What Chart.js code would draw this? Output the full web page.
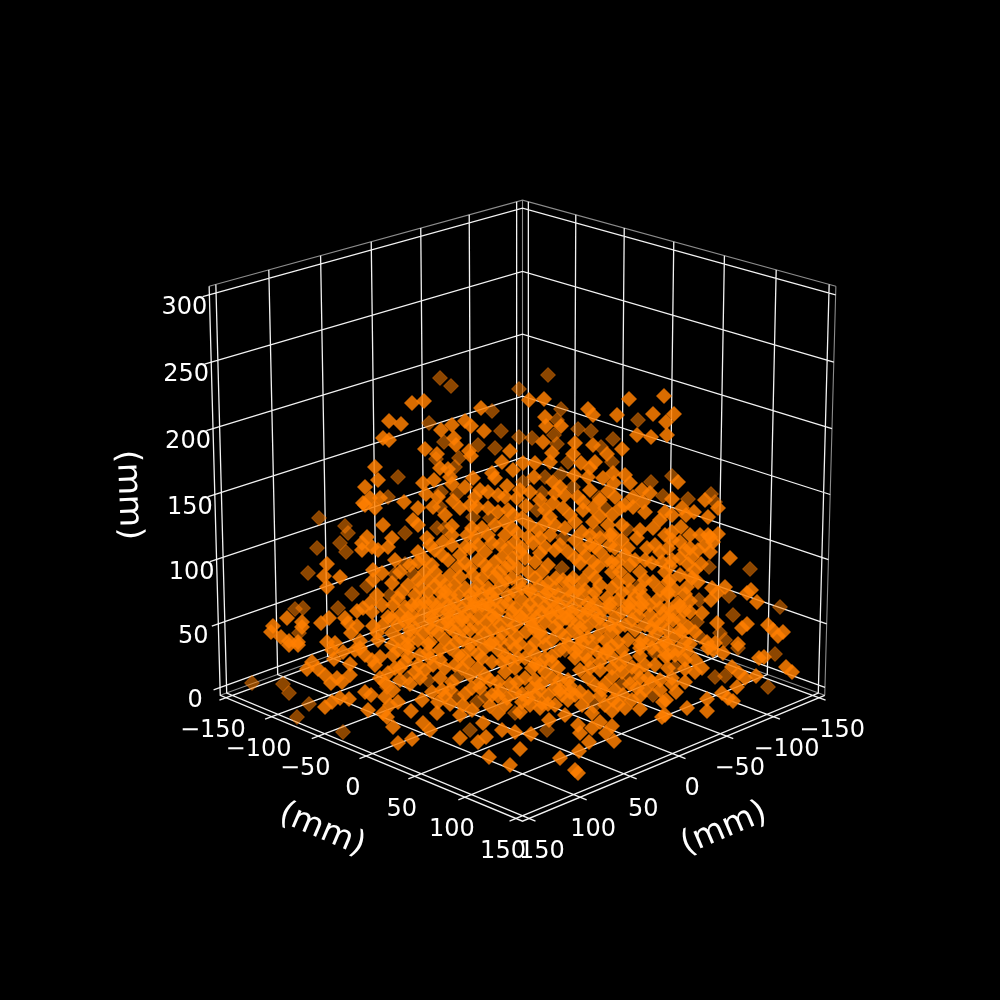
<!DOCTYPE html>
<html>
<head>
<meta charset="utf-8">
<style>
  html, body { margin: 0; padding: 0; background: #000; }
  canvas { display: block; }
</style>
<script src="https://cdn.jsdelivr.net/npm/chart.js@4"></script>
</head>
<body>
<canvas id="chart" width="1000" height="1000"></canvas>
<script>
// axis ticks, millimetres
const xTicks = [-150, -100, -50, 0, 50, 100, 150];
const yTicks = [-150, -100, -50, 0, 50, 100, 150];
const zTicks = [0, 50, 100, 150, 200, 250, 300];
const axisName = '(mm)';

// markers, on the view plane (x, y)
const nearPoints = [[412,403],[424,401],[529,400],[481,408],[389,421],[401,424],[441,430],[452,425],[465,421],[471,426],[484,431],[383,438],[389,440],[454,438],[456,445],[425,449],[437,454],[469,451],[471,456],[510,451],[502,462],[523,463],[375,467],[440,468],[448,469],[513,470],[535,463],[492,473],[450,477],[534,477],[378,480],[434,480],[423,483],[473,478],[465,487],[452,484],[365,487],[507,486],[426,494],[488,492],[480,490],[498,495],[475,497],[380,498],[404,502],[453,501],[438,497],[530,492],[517,498],[370,498],[363,503],
[544,399],[629,399],[664,396],[588,409],[593,415],[617,415],[653,414],[674,414],[666,422],[545,417],[561,426],[546,426],[637,435],[651,437],[667,435],[543,442],[575,443],[593,445],[622,449],[607,454],[552,453],[573,454],[550,462],[581,463],[595,462],[590,468],[678,482],[574,475],[588,477],[603,478],[613,473],[625,475],[630,483],[553,482],[560,487],[614,483],[608,491],[642,490],[650,493],[672,499],[705,500],[578,497],[615,497],[633,497],[555,493],[583,502],[643,502],[553,503],
[367,537],[362,543],[362,550],[372,547],[378,550],[383,525],[375,508],[365,505],[327,564],[324,576],[340,577],[327,587],[373,570],[382,573],[373,580],[377,595],[357,611],[363,608],[370,603],[372,612],[382,605],[287,618],[345,618],[329,618],[321,623],[302,622],[302,627],[348,623],[357,626],[373,626],[273,626],[271,632],[281,637],[351,633],[289,641],[298,642],[327,642],[335,643],[377,633],[360,641],[383,625],
[418,508],[433,507],[460,508],[477,507],[488,508],[498,512],[413,520],[418,525],[452,526],[513,515],[522,518],[482,528],[495,525],[505,535],[517,533],[475,537],[392,538],[427,538],[443,542],[388,547],[465,547],[485,552],[492,543],[460,555],[418,552],[442,555],[435,550],[502,557],[513,558],[522,548],[418,562],[435,572],[448,560],[450,575],[465,563],[460,577],[473,575],[488,570],[505,568],[518,568],[495,577],[392,583],[402,592],[415,595],[428,580],[440,592],[450,595],[465,588],[478,585],[488,588],[502,585],[515,592],[405,607],[393,605],[435,608],[448,612],[462,608],[475,603],[488,603],[502,605],[515,608],[388,617],[405,622],[418,620],[433,620],[448,622],[463,617],[478,618],[495,618],[508,620],[522,618],[392,633],[408,637],[423,633],[438,633],[455,632],[470,630],[485,633],[502,633],[517,637],[430,642],[463,640],[492,642],
[550,517],[563,508],[583,510],[593,508],[620,508],[633,507],[653,528],[545,523],[555,525],[582,532],[608,525],[593,522],[613,535],[533,543],[545,547],[555,550],[568,552],[582,548],[595,547],[610,545],[637,538],[628,548],[647,548],[535,562],[548,565],[580,563],[593,562],[607,560],[618,562],[635,560],[652,563],[563,580],[573,578],[583,580],[535,578],[548,583],[600,585],[612,572],[628,580],[653,582],[532,593],[545,595],[558,595],[573,593],[607,598],[622,592],[643,597],[657,600],[630,603],[535,610],[550,612],[565,612],[580,612],[595,612],[610,608],[622,612],[640,608],[532,625],[555,627],[570,620],[587,627],[602,627],[618,628],[632,620],[650,615],[662,615],[543,637],[565,637],[580,637],[597,637],[618,642],[642,640],[657,633],
[665,512],[682,508],[694,512],[708,517],[718,508],[686,515],[681,527],[718,534],[710,537],[713,542],[708,535],[672,532],[672,540],[680,542],[710,552],[698,550],[685,550],[692,557],[688,564],[730,558],[701,564],[672,560],[670,580],[698,582],[687,587],[712,588],[725,587],[717,593],[747,593],[751,590],[757,602],[711,600],[690,601],[678,603],[684,611],[667,595],[702,613],[673,620],[717,623],[747,624],[742,628],[768,625],[773,630],[783,632],[778,636],[688,627],[682,632],[667,630],[674,637],[685,642],[707,642],[715,643],[738,644],
[289,645],[298,645],[325,707],[332,702],[340,698],[349,699],[365,692],[371,695],[368,710],[307,669],[312,662],[318,669],[325,675],[331,683],[337,678],[342,682],[334,659],[343,652],[332,650],[350,664],[360,648],[372,660],[380,657],[385,683],[383,713],
[398,743],[412,739],[393,727],[387,717],[423,723],[430,730],[411,711],[437,713],[460,738],[478,742],[486,737],[483,723],[489,757],[510,765],[520,749],[502,730],[515,732],[498,713],[460,715],[463,705],[472,710],[442,690],[398,702],[390,705],[393,690],[422,700],[438,702],[388,673],[405,662],[393,655],[418,665],[445,668],[433,665],[468,662],[485,675],[498,682],[517,682],[502,662],[482,658],[458,655],[428,652],[518,658],[472,688],[492,695],[507,698],[522,702],[408,648],
[531,734],[549,720],[565,715],[578,725],[580,733],[592,728],[600,722],[606,733],[612,726],[614,741],[589,742],[579,751],[560,758],[575,770],[578,773],[662,717],[640,709],[612,711],[592,713],[582,705],[588,697],[568,700],[562,695],[542,703],[535,695],[548,695],[528,698],[613,700],[623,695],[632,700],[663,702],[637,688],[648,678],[612,677],[595,685],[588,678],[568,680],[542,683],[532,688],[552,678],[588,660],[575,658],[558,668],[545,658],[532,668],[607,650],[613,658],[632,667],[620,665],[645,665],[592,647],[640,648],
[759,658],[764,657],[786,667],[792,672],[732,667],[739,673],[745,678],[756,676],[737,687],[722,693],[728,698],[733,701],[707,699],[676,692],[687,708],[707,711],[666,700],[665,715],[685,682],[685,669],[672,678],[668,655],[687,652],[708,648],[723,653],[713,650]];

// the packed core, where single markers merge
const corePoints = [[508,510],[526,506],[545,510],[570,515],[600,516],[612,515],[645,512],
[472,528],[505,522],[530,525],[538,530],[565,528],[575,522],[590,535],[622,525],[660,520],[672,515],
[430,545],[452,545],[478,545],[500,545],[515,542],[528,537],[540,538],[575,540],[600,538],[622,540],[655,545],[668,548],[690,535],
[395,560],[425,560],[458,567],[478,560],[495,562],[525,558],[540,553],[575,558],[585,556],[600,552],[625,555],[645,560],[662,562],[680,558],
[400,572],[425,572],[445,585],[470,568],[482,578],[498,572],[512,578],[528,572],[542,572],[556,578],[590,572],[620,572],[640,572],[665,572],[680,575],
[408,585],[420,588],[435,585],[458,595],[470,595],[482,594],[495,592],[508,595],[522,588],[540,585],[555,588],[568,590],[585,590],[612,588],[630,590],[660,590],[675,590],
[398,598],[412,605],[425,602],[442,600],[455,603],[468,602],[482,605],[495,600],[508,603],[522,600],[538,600],[552,602],[566,600],[580,600],[595,603],[618,600],[635,597],[650,605],[668,608],[690,612],
[400,615],[412,615],[425,612],[440,610],[455,612],[470,610],[485,610],[498,612],[512,612],[526,610],[542,612],[558,612],[572,612],[588,610],[603,610],[615,618],[630,610],[655,622],[672,612],[695,632],
[398,625],[415,628],[428,625],[442,625],[456,622],[470,620],[486,622],[500,625],[515,625],[530,620],[545,622],[560,622],[578,622],[595,620],[610,625],[625,625],[645,625],[660,625],
[400,640],[418,640],[445,640],[456,642],[478,640],[500,640],[510,642],[526,632],[540,632],[552,640],[572,630],[588,638],[605,640],[628,640],[650,640],[665,642],[678,650],
[398,650],[420,655],[440,650],[450,648],[470,650],[485,648],[498,650],[515,648],[530,648],[545,645],[560,650],[578,648],[598,652],[622,650],[652,648],[668,645],
[415,672],[440,660],[455,665],[478,668],[492,662],[510,660],[525,658],[540,665],[585,655],[600,662],[625,658],[655,665],[675,655],[695,660],
[420,678],[440,678],[470,675],[490,680],[505,672],[525,678],[545,672],[560,680],[580,670],[600,670],[622,672],[640,678],[660,680],[695,672],
[432,692],[450,690],[480,688],[500,690],[515,692],[540,690],[555,688],[580,692],[602,690],[615,690],[645,690],[660,690],[400,680],
[540,708],[555,705],[505,705],[520,712],[530,705],[575,695],[605,705],[625,708],
[365,655],[375,665],[378,640],[392,645],[355,650],[380,678],[395,668],[350,675],[385,697],
[495,478],[520,490],[540,500],[565,495],[590,490],[600,500],[625,505],[505,497],[470,505],[445,515],
[452,535],[467,535],[488,535],[512,528],[550,535],[610,535],[640,530],[665,535],[700,535],
[470,548],[508,548],[520,552],[560,545],[590,545],[615,548],[660,552],[690,548],[705,545],
[410,565],[432,565],[485,565],[510,565],[598,566],[612,562],[630,565],[670,566],[695,570],
[418,580],[440,580],[455,585],[505,580],[520,582],[570,582],[595,578],[618,582],[645,580],[668,582],[692,578],
[428,592],[445,592],[475,592],[490,594],[530,590],[548,592],[578,590],[595,592],[640,590],[668,592],[685,594],
[418,605],[432,602],[448,605],[475,606],[490,606],[530,604],[545,606],[558,604],[572,606],[588,603],[610,604],[628,606],[642,604],[660,608],[680,606],
[392,618],[408,618],[432,616],[448,618],[462,620],[492,616],[520,616],[536,618],[552,616],[566,618],[585,616],[600,618],[638,616],[668,618],[680,620],
[410,630],[432,630],[450,628],[463,630],[478,628],[492,630],[510,630],[535,630],[560,632],[580,628],[612,632],[635,630],[652,628],[680,630],
[408,644],[428,644],[470,644],[490,644],[520,644],[535,642],[568,644],[582,642],[612,646],[640,644],[660,646],[690,644],
[408,656],[430,658],[462,656],[478,654],[505,656],[535,654],[552,656],[575,652],[605,654],[640,656],[665,656],[685,660],
[400,668],[425,670],[462,668],[515,668],[535,664],[552,662],[590,668],[612,668],[638,670],[668,668],[702,668],
[410,684],[452,682],[480,682],[510,684],[535,680],[570,686],[605,684],[630,684],[652,682],[672,684],
[445,696],[465,694],[498,696],[522,694],[560,690],[570,692],[600,696],[640,696],
[450,704],[490,706],[548,704],[618,704]];

const farPoints = [[440,378],[451,386],[519,389],[492,411],[429,423],[501,431],[519,437],[532,438],[444,442],[478,445],[495,448],[459,458],[436,459],[455,467],[398,477],[523,482],[441,492],[457,494],[388,497],
[548,375],[561,409],[638,420],[557,420],[578,429],[591,431],[613,439],[554,435],[557,444],[601,447],[568,462],[612,462],[672,476],[561,474],[651,482],[545,477],[573,487],[663,496],[711,494],[688,499],[599,498],[542,493],[715,502],
[319,518],[345,526],[348,533],[317,548],[340,543],[346,552],[308,573],[367,586],[352,594],[295,609],[303,608],[338,608],[299,633],
[440,507],[473,517],[437,528],[445,528],[405,533],[490,518],[405,564],[413,574],[395,574],[390,595],[420,602],
[537,510],[605,508],[627,529],[563,538],[597,532],[562,568],[640,585],[593,597],
[709,567],[750,569],[689,575],[729,596],[780,607],[699,600],[733,615],[697,622],[700,637],[720,633],[725,640],
[252,683],[283,684],[289,693],[309,704],[297,717],[343,732],
[470,730],[515,713],[477,702],[457,697],[387,687],[408,678],[457,678],[428,680],[485,697],[505,648],
[547,730],[594,706],[653,695],[622,684],[630,678],[655,653],[565,650],
[738,648],[775,654],[715,677],[725,676],[768,687],[675,667]];

const COLOR_NEAR = 'rgba(255,127,0,0.85)';
const COLOR_FAR = 'rgba(255,127,0,0.55)';
const GRID = 'rgba(255,255,255,0.95)';
const PANE = 'rgba(255,255,255,0.55)';
const FONT = '"DejaVu Sans"';

// same camera as the 3D plot: elevation 20, azimuth 45
const LIM = 156.25, TICK_TIP = 162.5, ZMIN = -6.25, ZMAX = 306.25;
const BOX = 1.0562, DIST = 10, SCALE = 4120, CX = 522.5, CY = 494.5;
const el = 20 * Math.PI / 180, az = 45 * Math.PI / 180;

function project(x, y, z) {
  const px = (x + LIM) / (2 * LIM) * BOX - BOX / 2;
  const py = (y + LIM) / (2 * LIM) * BOX - BOX / 2;
  const pz = (z - ZMIN) / (ZMAX - ZMIN) * BOX - BOX / 2;
  const depth = DIST - (px * Math.cos(el) * Math.cos(az) + py * Math.cos(el) * Math.sin(az) + pz * Math.sin(el));
  const right = -px * Math.sin(az) + py * Math.cos(az);
  const up = -px * Math.sin(el) * Math.cos(az) - py * Math.sin(el) * Math.sin(az) + pz * Math.cos(el);
  return { x: CX + SCALE * right / depth, y: CY - SCALE * up / depth };
}

// polylines joined with a gap point so one dataset holds them all
function path(lines) {
  const out = [];
  lines.forEach((line) => {
    line.forEach((p) => out.push(project(p[0], p[1], p[2])));
    out.push({ x: NaN, y: NaN });
  });
  return out;
}

const gridLines = [];
xTicks.forEach((x) => gridLines.push([[x, TICK_TIP, ZMIN], [x, -LIM, ZMIN], [x, -LIM, ZMAX]]));
yTicks.forEach((y) => gridLines.push([[TICK_TIP, y, ZMIN], [-LIM, y, ZMIN], [-LIM, y, ZMAX]]));
zTicks.forEach((z) => gridLines.push([[TICK_TIP, -LIM, z], [-LIM, -LIM, z], [-LIM, LIM, z]]));

const paneLines = [
  [[LIM, -LIM, ZMAX], [-LIM, -LIM, ZMAX], [-LIM, LIM, ZMAX]],
  [[-LIM, -LIM, ZMIN], [-LIM, -LIM, ZMAX]],
  [[-LIM, LIM, ZMIN], [-LIM, LIM, ZMAX]],
  [[LIM, -LIM, ZMIN], [-LIM, -LIM, ZMIN], [-LIM, LIM, ZMIN]]
];
const axisLines = [
  [[LIM, -LIM, ZMAX], [LIM, -LIM, ZMIN], [LIM, LIM, ZMIN], [-LIM, LIM, ZMIN]]
];

const lineSet = (data, color, width) => ({
  type: 'line', data, borderColor: color, borderWidth: width, pointRadius: 0,
  fill: false, spanGaps: false, tension: 0
});
const markerSet = (points, color) => ({
  type: 'scatter', data: points.map((p) => ({ x: p[0], y: p[1] })),
  backgroundColor: color, borderColor: color, borderWidth: 0.8,
  pointStyle: 'rectRot', pointRadius: 7.5
});

const tickText = (v) => String(v).replace('-', '\u2212');

const textPlugin = {
  id: 'axisText',
  afterDatasetsDraw(chart) {
    const { ctx, scales } = chart;
    const put = (text, px, py, size, rot) => {
      ctx.save();
      ctx.translate(scales.x.getPixelForValue(px), scales.y.getPixelForValue(py));
      ctx.rotate(rot * Math.PI / 180);
      ctx.font = size + 'px ' + FONT;
      ctx.fillStyle = '#fff';
      ctx.textAlign = 'center';
      ctx.textBaseline = 'middle';
      ctx.fillText(text, 0, 0);
      ctx.restore();
    };
    yTicks.forEach((y) => {
      const p = project(LIM, y, ZMIN);
      put(tickText(y), p.x - 13, p.y + 33, 24, 0);
    });
    xTicks.forEach((x) => {
      const p = project(x, LIM, ZMIN);
      put(tickText(x), p.x + 13, p.y + 33, 24, 0);
    });
    zTicks.forEach((z) => {
      const p = project(LIM, -LIM, z);
      put(tickText(z), p.x - 25, p.y + 13, 24, 0);
    });
    put(axisName, 322, 830, 33, 23);
    put(axisName, 724, 829, 33, -23);
    put(axisName, 128, 495, 33, 88);
  }
};

new Chart(document.getElementById('chart'), {
  type: 'scatter',
  data: {
    datasets: [
      markerSet(corePoints, COLOR_NEAR),
      markerSet(nearPoints, COLOR_NEAR),
      markerSet(farPoints, COLOR_FAR),
      lineSet(path(gridLines), GRID, 1.3),
      lineSet(path(axisLines), GRID, 1.3),
      lineSet(path(paneLines), PANE, 1.1)
    ]
  },
  options: {
    responsive: false,
    devicePixelRatio: 1,
    animation: false,
    layout: { padding: 0, autoPadding: false },
    plugins: { legend: { display: false }, tooltip: { enabled: false } },
    scales: {
      x: { type: 'linear', min: 0, max: 1000, display: false },
      y: { type: 'linear', min: 0, max: 1000, reverse: true, display: false }
    }
  },
  plugins: [textPlugin]
});
</script>
</body>
</html>
